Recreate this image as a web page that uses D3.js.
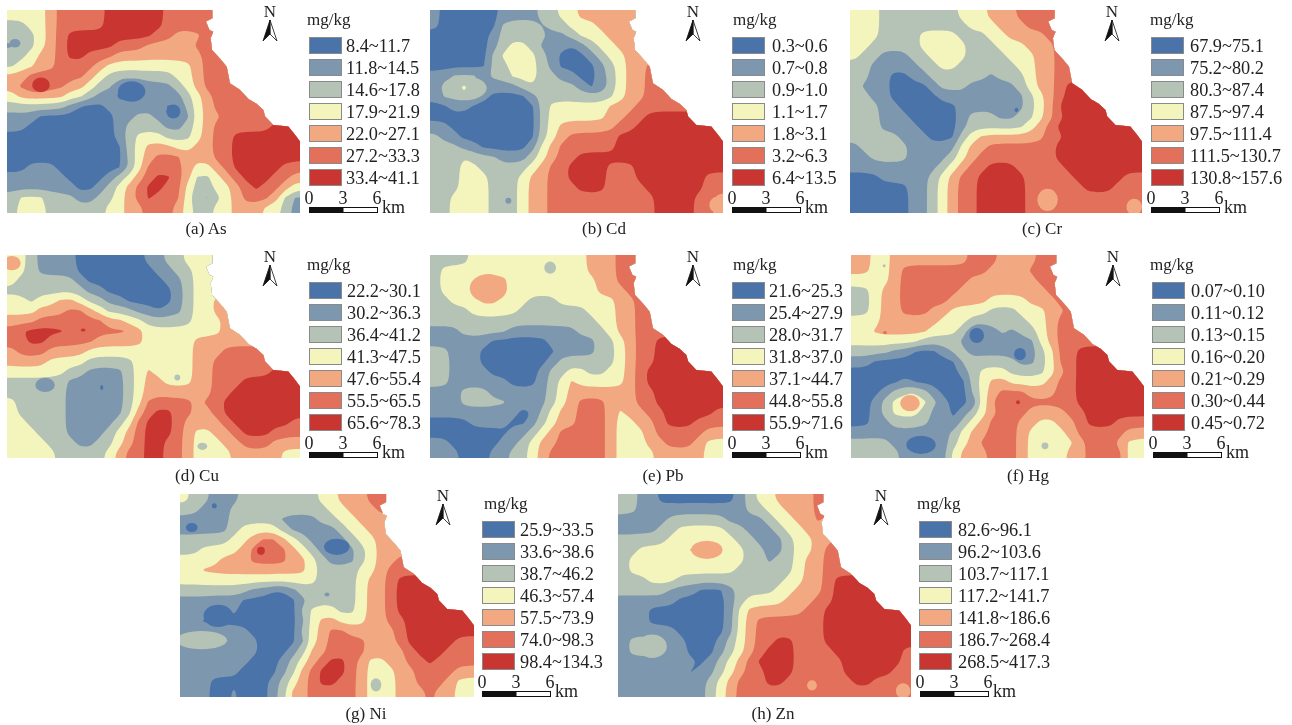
<!DOCTYPE html>
<html>
<head>
<meta charset="utf-8">
<title>Heavy metals</title>
<script src="https://cdn.jsdelivr.net/npm/d3@7"></script>
<style>
    html, body { margin: 0; padding: 0; background: #fff; }
    svg { display: block; filter: blur(0.4px); }
    text { font-family: "Liberation Serif", serif; fill: #222; }
</style>
</head>
<body>
<script>
"use strict";
// class colours, lowest to highest
const classColors = ["#4a73aa", "#7d97af", "#b5c2b6", "#f4f4bd", "#f2a981", "#e2705a", "#c93631"];

// legend labels
const asLabels = ["8.4~11.7", "11.8~14.5", "14.6~17.8", "17.9~21.9", "22.0~27.1", "27.2~33.3", "33.4~41.1"];
const cdLabels = ["0.3~0.6", "0.7~0.8", "0.9~1.0", "1.1~1.7", "1.8~3.1", "3.2~6.3", "6.4~13.5"];
const crLabels = ["67.9~75.1", "75.2~80.2", "80.3~87.4", "87.5~97.4", "97.5~111.4", "111.5~130.7", "130.8~157.6"];
const cuLabels = ["22.2~30.1", "30.2~36.3", "36.4~41.2", "41.3~47.5", "47.6~55.4", "55.5~65.5", "65.6~78.3"];
const pbLabels = ["21.6~25.3", "25.4~27.9", "28.0~31.7", "31.8~37.0", "37.1~44.7", "44.8~55.8", "55.9~71.6"];
const hgLabels = ["0.07~0.10", "0.11~0.12", "0.13~0.15", "0.16~0.20", "0.21~0.29", "0.30~0.44", "0.45~0.72"];
const niLabels = ["25.9~33.5", "33.6~38.6", "38.7~46.2", "46.3~57.4", "57.5~73.9", "74.0~98.3", "98.4~134.3"];
const znLabels = ["82.6~96.1", "96.2~103.6", "103.7~117.1", "117.2~141.7", "141.8~186.6", "186.7~268.4", "268.5~417.3"];

// scale bar ticks, km
const scaleTicks = [0, 3, 6];

// study area north east edge, as fractions of the map frame
const coastX = [.701, .701, .679, .691, .704, .695, .700, .729, .750, .761, .795, .824, .852, .875, .881, .909, .935, .960, .983, 1];
const coastY = [0, .041, .057, .098, .107, .139, .197, .243, .279, .361, .393, .439, .462, .492, .525, .566, .570, .574, .615, .648];

// class for each cell, 30 x 20
const asGrid = [
"444456666677777766666666666666",
"334456666677777766666666666666",
"333456777777777665556666666666",
"233456777776665555566666666666",
"334556776665555555556666666666",
"344556666544444444456666666666",
"556666665433333334456666666666",
"567766554331112223456666666666",
"455555443221112222345666666666",
"333333211122222211345666666666",
"222111111112233221245566666666",
"221111111112333322345666666777",
"111111111112344433345667777777",
"111111111111345554455667777777",
"111111111111345666555667777777",
"112221111111246666544567777766",
"222222111123456776533456777665",
"222222211234567766433445676654",
"344433322334567666422345666532",
"344433333344556665433445554432"];
const cdGrid = [
"211111122223344555555555555555",
"211111133332334445555555555555",
"111111233333223444555555555555",
"111111234432221234455555555555",
"111111344443211123445555555555",
"111111334443211112345566666666",
"223332334443322112345566666666",
"233332222343333211345566666666",
"233332111123333333345566666666",
"112211111113444444555666666666",
"111111111113444444556677777777",
"221111111113455555566777777777",
"322111111113456666677777777777",
"333221111124566666677777777777",
"333433322234566777777777777777",
"333443333345667777666777777777",
"333444333455667777666777777766",
"333444333455666777666677777766",
"334444333455666666666667777665",
"334444333455666666666667777665"];
const crGrid = [
"444333333334445556666666666666",
"444333333333444555666666666666",
"444333344443334455556666666666",
"443333344444333444555666666666",
"433222334444333344455666666666",
"332222233443333334455666666666",
"332211223333332333455666666666",
"322211112333222223455677777777",
"332211111222222222345677777777",
"333221111112222222345777777777",
"333222111112333223345677777777",
"333222211112333333456777777777",
"333332221113455555556677777777",
"233333222224556666666777777777",
"223333222234566666666777777777",
"222222222345667776666677777777",
"111222223456677777666667777766",
"111111223456677777666666777666",
"111111223456677777666666666666",
"111111223456677777666666666666"];
const cuGrid = [
"443222211111112233444444444444",
"443222211111111223344444444444",
"433333321111111122344444444444",
"333333332211111112344444444444",
"443445543322111112344555555555",
"444555665433322122344555555555",
"555666666655443333344455555555",
"677777666666654444444455555555",
"667766666555554444455555555555",
"566655554444444444455566666666",
"555544443333344444455666666666",
"444444332222345444455666666777",
"333333222222345544455666777777",
"333333222222345555555667777777",
"433333222222346666656677777777",
"433333222222356776655677777777",
"443333222223467776555567777776",
"444333222234567776544556777666",
"444433322334567766544455666555",
"444443333345667766544445555544"];
const pbGrid = [
"333344444444444455566666666666",
"344444444444444455566666666666",
"344445554444444445566666666666",
"344455554444444445556666666666",
"334445544433344444455666666666",
"333344444333333344455666666666",
"333333333333333334455666666666",
"222333332222222333455666666666",
"222222111111222223345667777777",
"332221111111122223345667777777",
"332221111111233333345667777777",
"332222111112334433445677777777",
"332222221112345444445677777777",
"222333222222345555555667777777",
"222333332222345666555667777777",
"222222222113455666545566777776",
"111122221123455666544556777666",
"111111112234566666544456666655",
"221111122345566666544455666544",
"222111223345666666544445555544"];
const hgGrid = [
"554455555555666555566666666666",
"554456666666665555666666666666",
"444456666666555555566666666666",
"334556666665555555556666666666",
"334556666655554444555666666666",
"334556665544443334445566666666",
"444555555444333333445666666666",
"445555554443112323345666666666",
"444444433332122222245666666666",
"333322111233222221234667777777",
"221111111113333332234667777777",
"111111111112344433334567777777",
"111112111111345544445667777777",
"111233432111345666555667777777",
"112345543211146666666667777777",
"112344432212345666555566777777",
"112233332213456665544556777666",
"222222222234556665444456666655",
"333322111234566665444445666544",
"333332222245556665444455666644"];
const niGrid = [
"433222333333334455566666666666",
"332223333333333445556666666666",
"222223333322223344555555555555",
"222223444432222234455555555555",
"333334456654322123445555555555",
"334444566665432122345555555555",
"444455566665543222345566666666",
"445555555555543333445666666666",
"444444444444443333455677777777",
"333333322112333333455677777777",
"222222111111233333455677777777",
"222112111111344433455677777777",
"221111111111245544455667777777",
"222222211111345665555567777777",
"333332221111245666655567777766",
"222222221112355666655556777666",
"222222211123456776544556676666",
"222222111123567776544455666655",
"222111111234567766544455666544",
"222112111235566666544455565544"];
const znGrid = [
"332211111111234455556666666666",
"332222222222233445556666666666",
"222223333332222344556555555555",
"222233444443322234455555555555",
"333334444444332223445566666666",
"334444455554433223445666666666",
"344444444444433233455666666666",
"344444444444333333455666666666",
"333444333333333334455677777777",
"333332221112333344555677777777",
"222222111112344445556677777777",
"222111111112455555566777777777",
"222111111112456666666777777777",
"222222111112456666666777777777",
"233332211123456677666777777777",
"233332211123456777666677777776",
"222222221234567777666667777776",
"222222212234566777666667777766",
"222222222345666776666666776666",
"222222222345666666666666666666"];

// small patches too narrow for the grid: col, row, class, col radius, row radius
const asSpots = [[0.82, 3.28, 2, .55, .42], [12.76, 8.03, 1, 1.4, 1], [17.03, 10, 1, .72, .7], [3.48, 7.38, 7, .9, .72]];
const cdSpots = [[3.5, 7.7, 3, 2.3, 1.2], [3.48, 7.67, 4, .2, .2], [8.02, 18.8, 2, .3, .3], [29.4, 19.2, 5, .8, .8]];
const crSpots = [[17.1, 9.84, 1, .2, .2], [20.3, 18.7, 5, 1.05, 1.1], [29.2, 19.4, 5, .8, .8]];
const cuSpots = [[7.8, 7.38, 7, .25, .15], [9.7, 13.05, 1, .15, .25], [17.44, 12.07, 3, .3, .3], [20, 18.85, 3, .5, .35], [3.9, 12.8, 2, 1, .7], [.5, .8, 5, .9, .7]];
const pbSpots = [[12.3, 1.25, 3, .6, .6], [5.97, 3.28, 5, 1.9, 1.4]];
const hgSpots = [[3.48, 7.64, 6, .2, .15], [3.4, 1.05, 3, .15, .15], [17.1, 14.5, 7, .2, .2], [12.87, 7.93, 1, .75, .75], [17.3, 9.77, 1, .6, .6], [6.04, 14.6, 5, 1, .8], [19.86, 18.8, 3, .35, .33], [29.1, 19.2, 4, .75, .8], [7.17, 18.7, 1, 1.5, .9]];
const niSpots = [[2.2, 14.4, 3, 2.6, .9], [3.5, 1.15, 1, .25, .25], [1.2, 3.3, 1, .6, .45], [8.26, 5.6, 7, .4, .4], [15, 9.9, 2, .25, .2], [20, 18.8, 3, .55, .65], [16, 5.2, 1, 1.3, .8], [3.9, 12, 1, 1.5, 1.1]];
const znSpots = [[9.1, 5.5, 5, 1.6, .9], [3.5, 15, 3, 1.5, 1.15], [19.86, 18.85, 5, .5, .5], [29.2, 19.4, 5, .75, .75]];

// page layout for each map
const panels = [
    {grid: asGrid, spots: asSpots, labels: asLabels, caption: "(a) As", x0: 7, x1: 300, y0: 10, swatchX: 309, textX: 346, unitX: 307, northX: 270, barX: 309, capX: 206, capY: 234},
    {grid: cdGrid, spots: cdSpots, labels: cdLabels, caption: "(b) Cd", x0: 430, x1: 723, y0: 10, swatchX: 732, textX: 772, unitX: 733, northX: 693, barX: 732, capX: 604, capY: 234},
    {grid: crGrid, spots: crSpots, labels: crLabels, caption: "(c) Cr", x0: 850, x1: 1142, y0: 10, swatchX: 1151, textX: 1190, unitX: 1150, northX: 1112, barX: 1151, capX: 1042, capY: 234},
    {grid: cuGrid, spots: cuSpots, labels: cuLabels, caption: "(d) Cu", x0: 7, x1: 300, y0: 255, swatchX: 309, textX: 347, unitX: 307, northX: 270, barX: 309, capX: 197, capY: 481},
    {grid: pbGrid, spots: pbSpots, labels: pbLabels, caption: "(e) Pb", x0: 430, x1: 723, y0: 255, swatchX: 732, textX: 769, unitX: 733, northX: 693, barX: 732, capX: 663, capY: 481},
    {grid: hgGrid, spots: hgSpots, labels: hgLabels, caption: "(f) Hg", x0: 851, x1: 1144, y0: 255, swatchX: 1152, textX: 1191, unitX: 1150, northX: 1113, barX: 1153, capX: 1028, capY: 481},
    {grid: niGrid, spots: niSpots, labels: niLabels, caption: "(g) Ni", x0: 180, x1: 474, y0: 494, swatchX: 482, textX: 520, unitX: 484, northX: 443, barX: 482, capX: 366, capY: 719},
    {grid: znGrid, spots: znSpots, labels: znLabels, caption: "(h) Zn", x0: 618, x1: 911, y0: 494, swatchX: 919, textX: 958, unitX: 917, northX: 881, barX: 920, capX: 773, capY: 719}
];

const measurements = { width: 1292, height: 725, mapHeight: 203, pad: 2 };

const svg = d3.select("body").append("svg")
    .attr("width", measurements.width)
    .attr("height", measurements.height);

// repeat the edge cells so contour rings close outside of the clip
function padGrid(rows) {
    const pad = measurements.pad;
    const nx = rows[0].length, ny = rows.length;
    const values = new Float64Array((nx + pad * 2) * (ny + pad * 2));
    let k = 0;
    for (let j = -pad; j < ny + pad; j++) {
        const row = rows[Math.max(0, Math.min(ny - 1, j))];
        for (let i = -pad; i < nx + pad; i++) {
            values[k++] = +row[Math.max(0, Math.min(nx - 1, i))];
        }
    }
    // soften the cell steps a little
    d3.blur2({data: values, width: nx + pad * 2}, 0.07);
    return {values: values, nx: nx, ny: ny};
}

function drawMap(g, p, index) {
    const padded = padGrid(p.grid);
    const pad = measurements.pad;
    const y1 = p.y0 + measurements.mapHeight;

    const frameX = d3.scaleLinear().domain([0, 1]).range([p.x0, p.x1]);
    const frameY = d3.scaleLinear().domain([0, 1]).range([p.y0, y1]);
    const cellX = d3.scaleLinear().domain([pad, pad + padded.nx]).range([p.x0, p.x1]);
    const cellY = d3.scaleLinear().domain([pad, pad + padded.ny]).range([p.y0, y1]);

    const outline = coastX.map((d, i) => [frameX(d), frameY(coastY[i])])
        .concat([[frameX(1), frameY(1)], [frameX(0), frameY(1)], [frameX(0), frameY(0)]]);

    svg.append("clipPath").attr("id", "clip" + index)
        .append("polygon")
        .attr("points", outline.map((d) => d.join(",")).join(" "));

    const contours = d3.contours()
        .size([padded.nx + pad * 2, padded.ny + pad * 2])
        .thresholds(d3.range(0.5, 7, 1))(Array.from(padded.values));

    const ringLine = d3.line()
        .x((d) => cellX(d[0]))
        .y((d) => cellY(d[1]))
        .curve(d3.curveBasisClosed);

    const map = g.append("g").attr("clip-path", "url(#clip" + index + ")");

    map.selectAll("path")
        .data(contours)
        .enter()
        .append("path")
        .attr("fill", (d, i) => classColors[i])
        .attr("fill-rule", "evenodd")
        .attr("d", (d) => d.coordinates
            .map((poly) => poly.map((ring) => ringLine(ring.slice(0, -1))).join(""))
            .join(""));

    map.selectAll("ellipse")
        .data(p.spots)
        .enter()
        .append("ellipse")
        .attr("cx", (d) => cellX(pad + d[0]))
        .attr("cy", (d) => cellY(pad + d[1]))
        .attr("rx", (d) => cellX(pad + d[3]) - cellX(pad))
        .attr("ry", (d) => cellY(pad + d[4]) - cellY(pad))
        .attr("fill", (d) => classColors[d[2] - 1]);
}

function drawLegend(g, p) {
    const top = p.y0 + 27;
    const rowY = d3.scaleBand().domain(d3.range(7)).range([top, top + 154]);

    g.append("text")
        .attr("x", p.unitX)
        .attr("y", p.y0 + 15)
        .style("font-size", "17px")
        .text("mg/kg");

    g.selectAll("rect.swatch")
        .data(p.labels)
        .enter()
        .append("rect")
        .attr("class", "swatch")
        .attr("x", p.swatchX + 0.5)
        .attr("y", (d, i) => rowY(i) + 0.5)
        .attr("width", 32)
        .attr("height", 16)
        .attr("fill", (d, i) => classColors[i])
        .attr("stroke", "#8a8a8a")
        .attr("stroke-width", 1);

    g.selectAll("text.range")
        .data(p.labels)
        .enter()
        .append("text")
        .attr("class", "range")
        .attr("x", p.textX)
        .attr("y", (d, i) => rowY(i) + 14.5)
        .style("font-size", "18.3px")
        .text((d) => d);
}

function drawScaleBar(g, p) {
    const barY = p.y0 + 197;
    const scaleX = d3.scaleLinear().domain([0, 6]).range([p.barX, p.barX + 68]);

    g.selectAll("text.tick")
        .data(scaleTicks)
        .enter()
        .append("text")
        .attr("class", "tick")
        .attr("x", (d) => scaleX(d))
        .attr("y", barY - 3)
        .attr("text-anchor", "middle")
        .style("font-size", "18px")
        .text((d) => d);

    g.append("rect")
        .attr("x", scaleX(0) + 0.5).attr("y", barY + 0.5)
        .attr("width", scaleX(6) - scaleX(0)).attr("height", 5)
        .attr("fill", "#fff").attr("stroke", "#111");
    g.append("rect")
        .attr("x", scaleX(0) + 0.5).attr("y", barY + 0.5)
        .attr("width", scaleX(3) - scaleX(0)).attr("height", 5)
        .attr("fill", "#111");

    g.append("text")
        .attr("x", scaleX(6) + 5)
        .attr("y", barY + 6)
        .style("font-size", "18px")
        .text("km");
}

function drawNorth(g, p) {
    g.append("text")
        .attr("x", p.northX)
        .attr("y", p.y0 + 7)
        .attr("text-anchor", "middle")
        .style("font-size", "17px")
        .text("N");

    const arrow = g.append("g").attr("transform", "translate(" + p.northX + "," + (p.y0 + 10) + ")");
    arrow.append("path").attr("d", "M0,0L7,21L0,14Z").attr("fill", "#fff").attr("stroke", "#111").attr("stroke-width", 0.8);
    arrow.append("path").attr("d", "M0,0L-7,21L0,14Z").attr("fill", "#111").attr("stroke", "#111").attr("stroke-width", 0.8);
}

panels.forEach((p, i) => {
    const g = svg.append("g");
    drawMap(g, p, i);
    drawLegend(g, p);
    drawScaleBar(g, p);
    drawNorth(g, p);
    g.append("text")
        .attr("x", p.capX)
        .attr("y", p.capY)
        .attr("text-anchor", "middle")
        .style("font-size", "17px")
        .text(p.caption);
});
</script>
</body>
</html>
